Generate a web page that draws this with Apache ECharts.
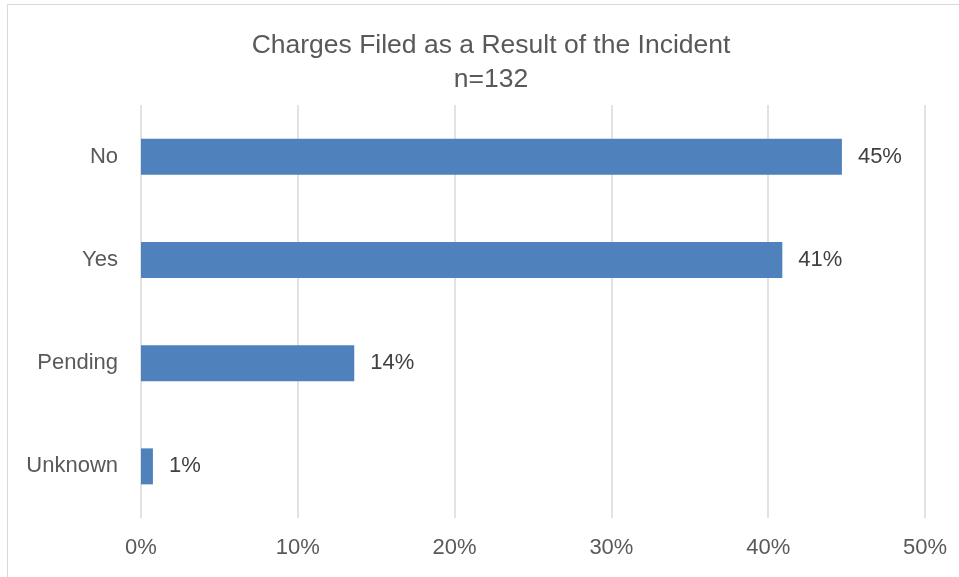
<!DOCTYPE html>
<html>
<head>
<meta charset="utf-8">
<script src="https://cdn.jsdelivr.net/npm/echarts@6/dist/echarts.min.js"></script>
<style>
html,body{margin:0;padding:0;background:#fff;}
#chart{width:959px;height:577px;}
</style>
</head>
<body>
<div id="chart"></div>
<script>
const categories = ['No', 'Yes', 'Pending', 'Unknown'];
const values = [44.7, 40.9, 13.6, 0.76];
const tickValues = [0, 10, 20, 30, 40, 50];
const titleText = 'Charges Filed as a Result of the Incident';
const subtitleText = 'n=132';

const chart = echarts.init(document.getElementById('chart'), null, {renderer: 'canvas'});
const font = '"Liberation Sans", Arial, sans-serif';
chart.setOption({
  animation: false,
  backgroundColor: '#ffffff',
  graphic: [{
    type: 'rect',
    shape: {x: 7.5, y: 4.5, width: 1000, height: 1000},
    style: {fill: 'none', stroke: '#d9d9d9', lineWidth: 1},
    silent: true
  }],
  title: {
    text: titleText + '\n' + subtitleText,
    left: 486,
    top: 24,
    textAlign: 'center',
    textStyle: {
      fontFamily: font,
      fontSize: 26.5,
      fontWeight: 'normal',
      color: '#595959',
      lineHeight: 34
    }
  },
  grid: {left: 141, right: 34, top: 105, bottom: 59, containLabel: false},
  xAxis: {
    type: 'value',
    min: tickValues[0],
    max: tickValues[tickValues.length - 1],
    interval: 10,
    axisLine: {show: false},
    axisTick: {show: false},
    splitLine: {show: true, lineStyle: {color: '#d9d9d9', width: 1.5}},
    axisLabel: {
      margin: 19,
      fontFamily: font,
      fontSize: 22,
      color: '#595959',
      formatter: v => v + '%'
    }
  },
  yAxis: {
    type: 'category',
    data: categories,
    inverse: true,
    axisLine: {show: false},
    axisTick: {show: false},
    axisLabel: {
      margin: 23,
      fontFamily: font,
      fontSize: 22,
      color: '#595959'
    }
  },
  series: [{
    type: 'bar',
    data: values,
    barWidth: 36,
    itemStyle: {color: '#4f81bd'},
    label: {
      show: true,
      position: 'right',
      distance: 16,
      fontFamily: font,
      fontSize: 22,
      color: '#404040',
      formatter: p => Math.round(p.value) + '%'
    }
  }]
});
</script>
</body>
</html>
